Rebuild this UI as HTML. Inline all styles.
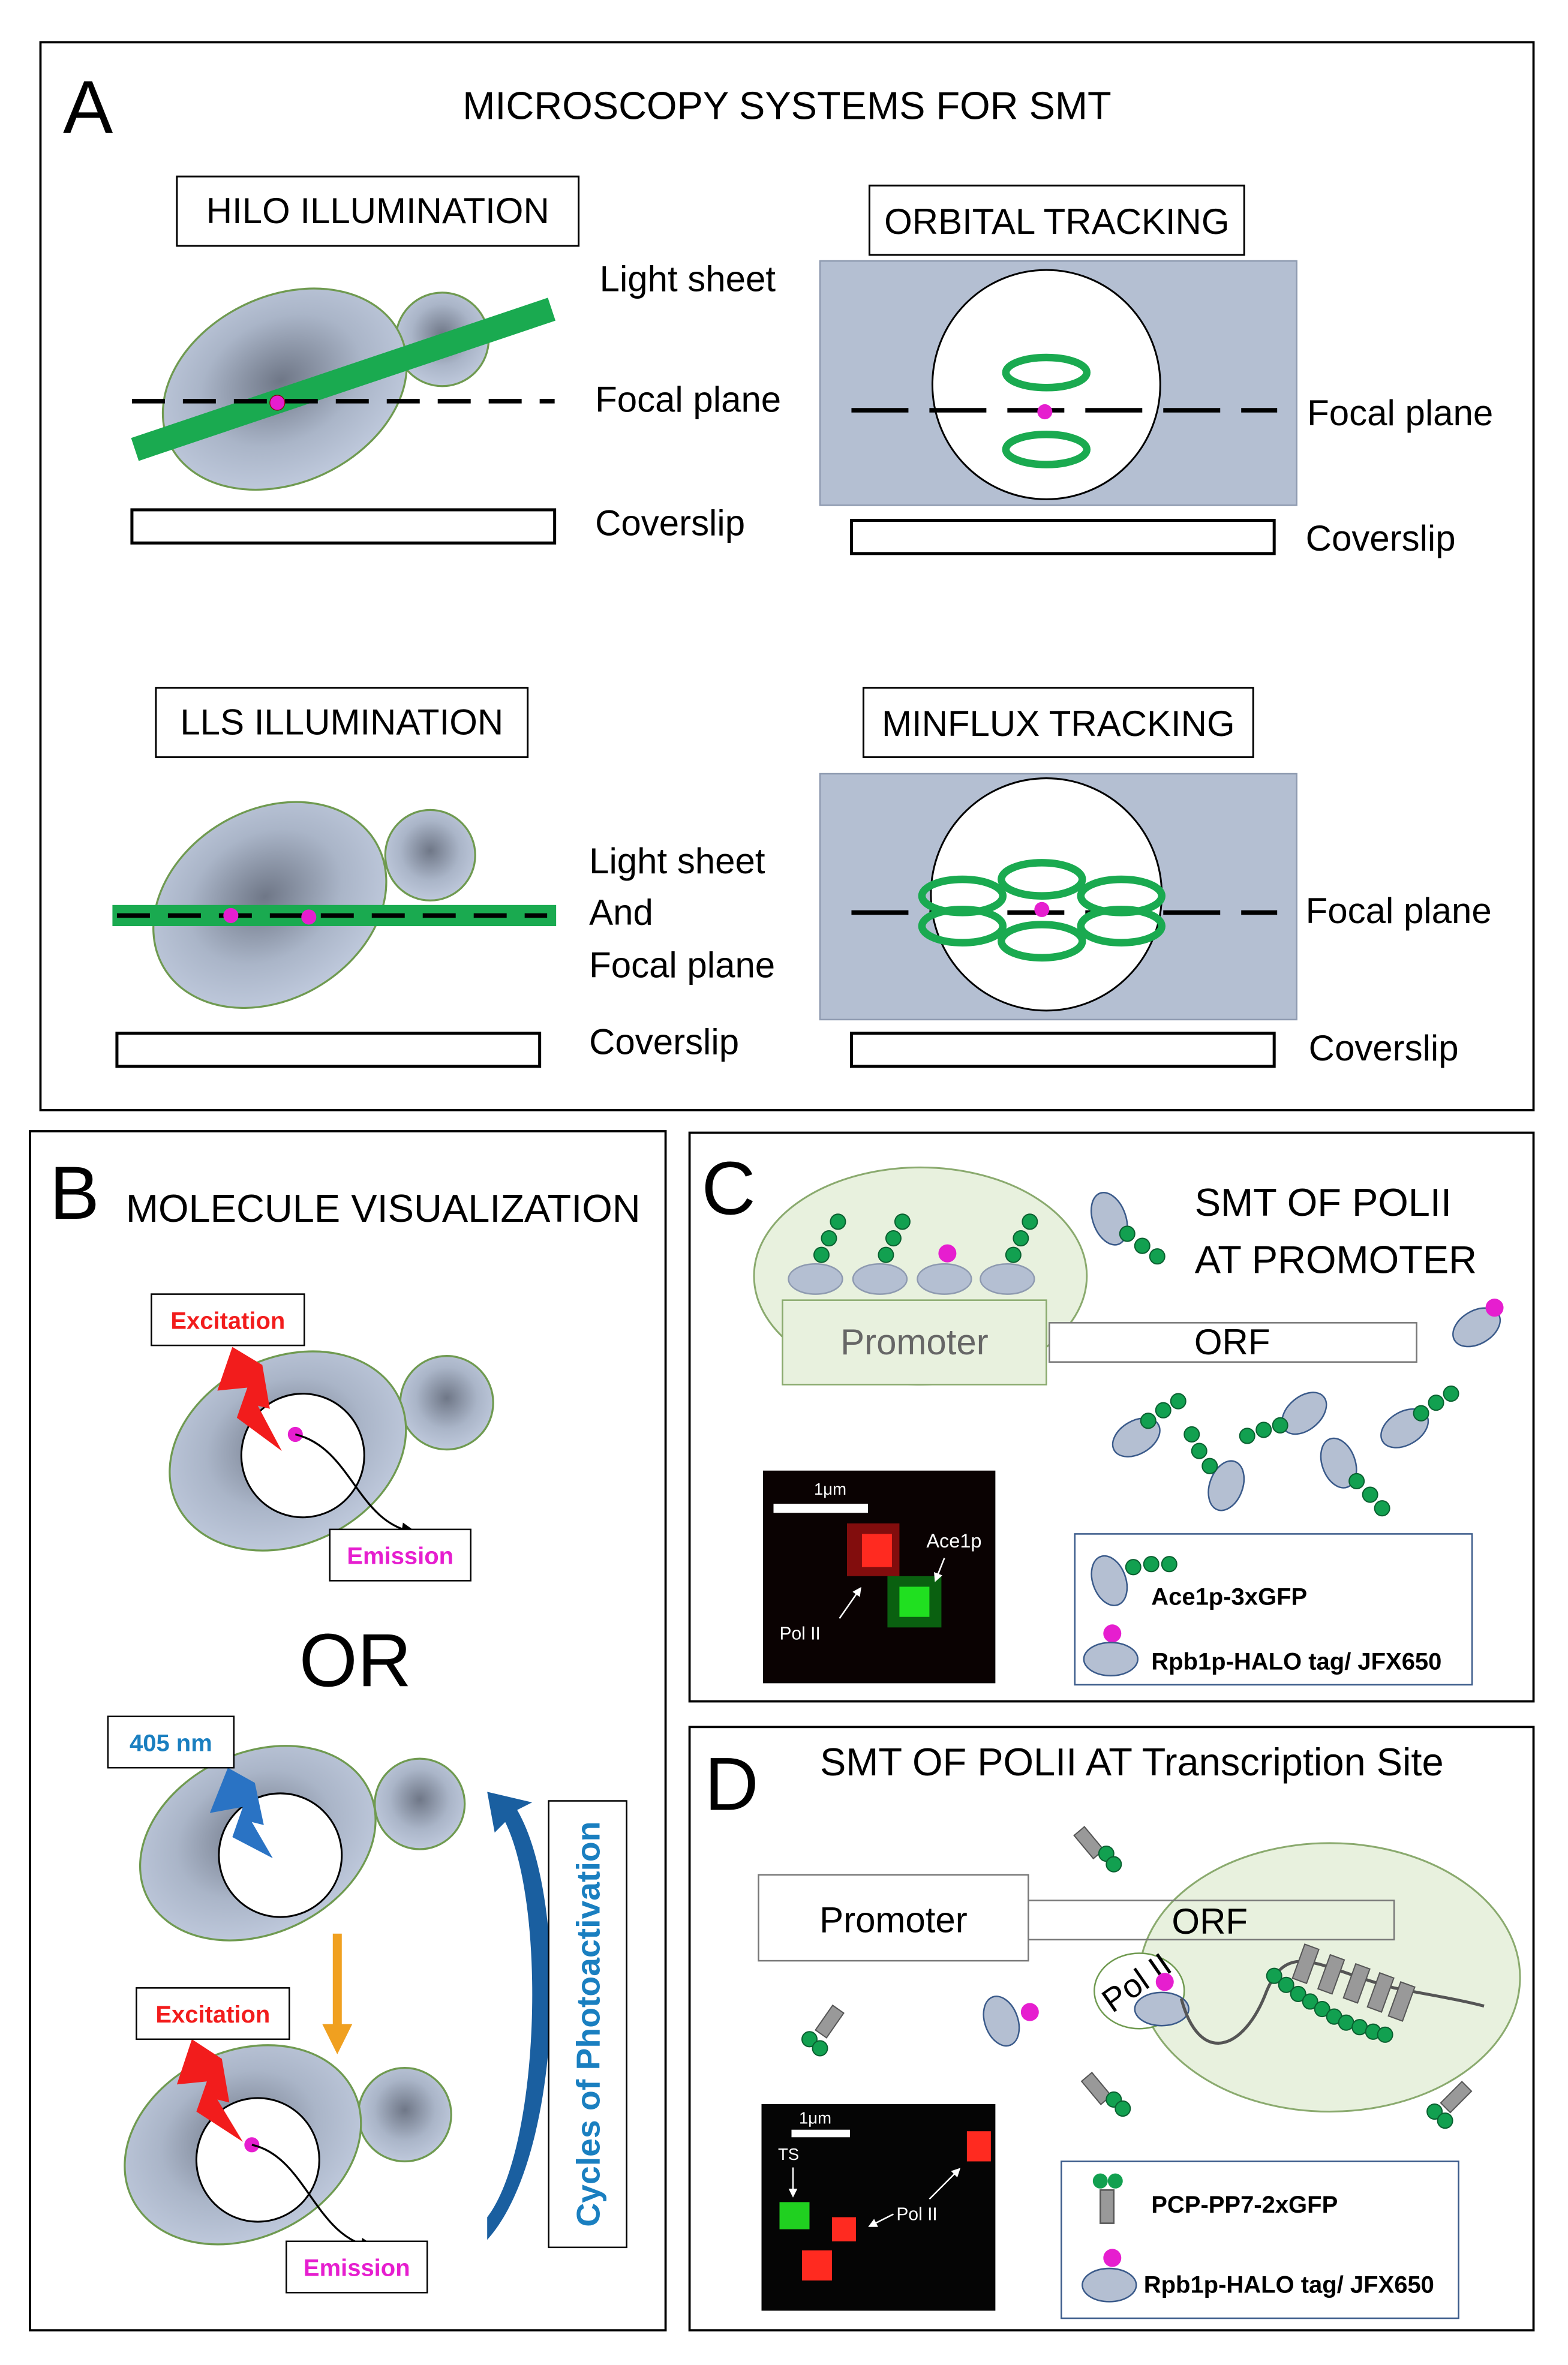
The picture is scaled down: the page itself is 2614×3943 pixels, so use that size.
<!DOCTYPE html>
<html><head><meta charset="utf-8"><style>
html,body{margin:0;padding:0;background:#fff}
svg{display:block}
text{font-family:"Liberation Sans","DejaVu Sans",sans-serif}
</style></head><body>
<svg width="2614" height="3943" viewBox="0 0 1046 1568" preserveAspectRatio="none" xmlns="http://www.w3.org/2000/svg">
<defs>
<radialGradient id="cg" cx="50%" cy="45%" r="60%"><stop offset="0" stop-color="#6f7787"/><stop offset="0.55" stop-color="#aab5c8"/><stop offset="1" stop-color="#c3cde0"/></radialGradient>
<marker id="ah" markerWidth="8" markerHeight="8" refX="7" refY="4" orient="auto"><path d="M0,0 L8,4 L0,8 z" fill="#000"/></marker>
<marker id="ahw" markerWidth="6" markerHeight="6" refX="5" refY="3" orient="auto"><path d="M0,0 L6,3 L0,6 z" fill="#fff"/></marker>
</defs>
<rect width="1046" height="1568" fill="#fff"/>

<!-- PANEL A -->
<rect x="27" y="28" width="996" height="708" fill="none" stroke="#000" stroke-width="1.5"/>
<text x="42" y="88" font-size="50">A</text>
<text x="525" y="79" font-size="26" text-anchor="middle">MICROSCOPY SYSTEMS FOR SMT</text>

<rect x="118" y="117" width="268" height="46" fill="#fff" stroke="#000" stroke-width="1.2"/>
<text x="252" y="148" font-size="24" text-anchor="middle">HILO  ILLUMINATION</text>
<circle cx="295" cy="225" r="31" fill="url(#cg)" stroke="#6f9a50" stroke-width="1.3"/>
<ellipse cx="190" cy="258" rx="85" ry="62" transform="rotate(-25 190 258)" fill="url(#cg)" stroke="#6f9a50" stroke-width="1.3"/>
<line x1="90" y1="298" x2="368" y2="205" stroke="#1aaa50" stroke-width="16"/>
<line x1="88" y1="266" x2="370" y2="266" stroke="#000" stroke-width="3" stroke-dasharray="22,12"/>
<circle cx="185" cy="267" r="5" fill="#e61ecf" stroke="#800" stroke-width="0.5"/>
<rect x="88" y="338" width="282" height="22" fill="#fff" stroke="#000" stroke-width="2"/>
<text x="400" y="193" font-size="24">Light sheet</text>
<text x="397" y="273" font-size="24">Focal plane</text>
<text x="397" y="355" font-size="24">Coverslip</text>

<rect x="580" y="123" width="250" height="46" fill="#fff" stroke="#000" stroke-width="1.2"/>
<text x="705" y="155" font-size="24" text-anchor="middle">ORBITAL TRACKING</text>
<rect x="547" y="173" width="318" height="162" fill="#b4bfd2" stroke="#8e9ab0"/>
<circle cx="698" cy="255" r="76" fill="#fff" stroke="#000" stroke-width="1.2"/>
<ellipse cx="698" cy="247" rx="27" ry="10" fill="none" stroke="#1aaa50" stroke-width="5"/>
<ellipse cx="698" cy="298" rx="27" ry="10" fill="none" stroke="#1aaa50" stroke-width="5"/>
<line x1="568" y1="272" x2="852" y2="272" stroke="#000" stroke-width="3" stroke-dasharray="38,14"/>
<circle cx="697" cy="273" r="5" fill="#e61ecf"/>
<rect x="568" y="345" width="282" height="22" fill="#fff" stroke="#000" stroke-width="2"/>
<text x="872" y="282" font-size="24">Focal plane</text>
<text x="871" y="365" font-size="24">Coverslip</text>

<rect x="104" y="456" width="248" height="46" fill="#fff" stroke="#000" stroke-width="1.2"/>
<text x="228" y="487" font-size="24" text-anchor="middle">LLS  ILLUMINATION</text>
<circle cx="287" cy="567" r="30" fill="url(#cg)" stroke="#6f9a50" stroke-width="1.3"/>
<ellipse cx="180" cy="600" rx="82" ry="63" transform="rotate(-30 180 600)" fill="url(#cg)" stroke="#6f9a50" stroke-width="1.3"/>
<rect x="75" y="600" width="296" height="14" fill="#1aaa50"/>
<line x1="78" y1="607" x2="365" y2="607" stroke="#000" stroke-width="3" stroke-dasharray="22,12"/>
<circle cx="154" cy="607" r="5" fill="#e61ecf"/>
<circle cx="206" cy="608" r="5" fill="#e61ecf"/>
<rect x="78" y="685" width="282" height="22" fill="#fff" stroke="#000" stroke-width="2"/>
<text x="393" y="579" font-size="24">Light sheet</text>
<text x="393" y="613" font-size="24">And</text>
<text x="393" y="648" font-size="24">Focal plane</text>
<text x="393" y="699" font-size="24">Coverslip</text>

<rect x="576" y="456" width="260" height="46" fill="#fff" stroke="#000" stroke-width="1.2"/>
<text x="706" y="488" font-size="24" text-anchor="middle">MINFLUX TRACKING</text>
<rect x="547" y="513" width="318" height="163" fill="#b4bfd2" stroke="#8e9ab0"/>
<circle cx="698" cy="593" r="77" fill="#fff" stroke="#000" stroke-width="1.2"/>
<line x1="568" y1="605" x2="852" y2="605" stroke="#000" stroke-width="3" stroke-dasharray="38,14"/>
<g fill="none" stroke="#1aaa50" stroke-width="5">
<ellipse cx="695" cy="583" rx="27" ry="11"/>
<ellipse cx="642" cy="594" rx="27" ry="11"/>
<ellipse cx="748" cy="594" rx="27" ry="11"/>
<ellipse cx="642" cy="614" rx="27" ry="11"/>
<ellipse cx="748" cy="614" rx="27" ry="11"/>
<ellipse cx="695" cy="624" rx="27" ry="11"/>
</g>
<circle cx="695" cy="603" r="5" fill="#e61ecf"/>
<rect x="568" y="685" width="282" height="22" fill="#fff" stroke="#000" stroke-width="2"/>
<text x="871" y="612" font-size="24">Focal plane</text>
<text x="873" y="703" font-size="24">Coverslip</text>

<!-- PANEL B -->
<rect x="20" y="750" width="424" height="795" fill="none" stroke="#000" stroke-width="1.5"/>
<text x="33" y="808" font-size="50">B</text>
<text x="84" y="810" font-size="26">MOLECULE VISUALIZATION</text>

<circle cx="298" cy="930" r="31" fill="url(#cg)" stroke="#6f9a50" stroke-width="1.3"/>
<ellipse cx="192" cy="962" rx="82" ry="62" transform="rotate(-25 192 962)" fill="url(#cg)" stroke="#6f9a50" stroke-width="1.3"/>
<circle cx="202" cy="965" r="41" fill="#fff" stroke="#000" stroke-width="1.2"/>
<polygon points="155,893 145,922 165,920 158,940 188,962 172,932 180,934 175,905" fill="#f21c1c"/>
<circle cx="197" cy="951" r="5" fill="#e61ecf"/>
<path d="M197,951 C235,960 238,1010 277,1016" fill="none" stroke="#000" stroke-width="1.3" marker-end="url(#ah)"/>
<rect x="101" y="858" width="102" height="34" fill="#fff" stroke="#000"/>
<text x="152" y="881" font-size="16" font-weight="bold" fill="#f21c1c" text-anchor="middle">Excitation</text>
<rect x="220" y="1014" width="94" height="34" fill="#fff" stroke="#000"/>
<text x="267" y="1037" font-size="16" font-weight="bold" fill="#e61ecf" text-anchor="middle">Emission</text>
<text x="237" y="1118" font-size="50" text-anchor="middle">OR</text>

<circle cx="280" cy="1196" r="30" fill="url(#cg)" stroke="#6f9a50" stroke-width="1.3"/>
<ellipse cx="172" cy="1222" rx="82" ry="60" transform="rotate(-25 172 1222)" fill="url(#cg)" stroke="#6f9a50" stroke-width="1.3"/>
<circle cx="187" cy="1230" r="41" fill="#fff" stroke="#000" stroke-width="1.2"/>
<polygon points="152,1172 140,1202 162,1198 155,1218 182,1232 168,1208 176,1210 170,1182" fill="#2a73c4"/>
<rect x="72" y="1138" width="84" height="34" fill="#fff" stroke="#000"/>
<text x="114" y="1161" font-size="16" font-weight="bold" fill="#1a7fc0" text-anchor="middle">405 nm</text>
<rect x="222" y="1282" width="6" height="62" fill="#f0a020"/>
<polygon points="215,1342 235,1342 225,1362" fill="#f0a020"/>

<circle cx="270" cy="1402" r="31" fill="url(#cg)" stroke="#6f9a50" stroke-width="1.3"/>
<ellipse cx="162" cy="1422" rx="82" ry="62" transform="rotate(-25 162 1422)" fill="url(#cg)" stroke="#6f9a50" stroke-width="1.3"/>
<circle cx="172" cy="1432" r="41" fill="#fff" stroke="#000" stroke-width="1.2"/>
<polygon points="128,1352 118,1382 138,1380 131,1400 162,1420 145,1392 153,1394 148,1365" fill="#f21c1c"/>
<circle cx="168" cy="1422" r="5" fill="#e61ecf"/>
<path d="M168,1422 C205,1430 210,1485 250,1490" fill="none" stroke="#000" stroke-width="1.3" marker-end="url(#ah)"/>
<rect x="91" y="1318" width="102" height="34" fill="#fff" stroke="#000"/>
<text x="142" y="1341" font-size="16" font-weight="bold" fill="#f21c1c" text-anchor="middle">Excitation</text>
<rect x="191" y="1486" width="94" height="34" fill="#fff" stroke="#000"/>
<text x="238" y="1509" font-size="16" font-weight="bold" fill="#e61ecf" text-anchor="middle">Emission</text>

<path d="M325,1485 C375,1430 380,1260 345,1200 L355,1195 L325,1188 L330,1215 L337,1208 C365,1265 360,1425 325,1470 z" fill="#1a5fa0"/>
<rect x="366" y="1194" width="52" height="296" fill="#fff" stroke="#000"/>
<text transform="translate(400 1342) rotate(-90)" font-size="22" font-weight="bold" fill="#1a7fc0" text-anchor="middle">Cycles of Photoactivation</text>

<!-- PANEL C -->
<rect x="460" y="751" width="563" height="377" fill="none" stroke="#000" stroke-width="1.5"/>
<text x="468" y="805" font-size="50">C</text>
<ellipse cx="614" cy="846" rx="111" ry="72" fill="#e8f1de" stroke="#8aaa6e" stroke-width="1.2"/>
<g fill="#b4bfd2" stroke="#8e9ab0">
<ellipse cx="544" cy="848" rx="18" ry="10"/><ellipse cx="587" cy="848" rx="18" ry="10"/>
<ellipse cx="630" cy="848" rx="18" ry="10"/><ellipse cx="672" cy="848" rx="18" ry="10"/>
</g>
<g fill="#12a050" stroke="#0a6030" stroke-width="0.8">
<circle cx="548" cy="832" r="5"/><circle cx="553" cy="821" r="5"/><circle cx="559" cy="810" r="5"/>
<circle cx="591" cy="832" r="5"/><circle cx="596" cy="821" r="5"/><circle cx="602" cy="810" r="5"/>
<circle cx="676" cy="832" r="5"/><circle cx="681" cy="821" r="5"/><circle cx="687" cy="810" r="5"/>
</g>
<circle cx="632" cy="831" r="6" fill="#e61ecf"/>
<rect x="700" y="877" width="245" height="26" fill="#fff" stroke="#777"/>
<text x="822" y="898" font-size="24" text-anchor="middle">ORF</text>
<rect x="522" y="862" width="176" height="56" fill="#e8f1de" stroke="#8aaa6e"/>
<text x="610" y="898" font-size="24" fill="#666" text-anchor="middle">Promoter</text>
<text x="797" y="806" font-size="26">SMT OF POLII</text>
<text x="797" y="844" font-size="26">AT PROMOTER</text>
<g fill="#b4bfd2" stroke="#3a5a8a" stroke-width="1">
<ellipse cx="740" cy="808" rx="11" ry="18" transform="rotate(-20 740 808)"/>
<ellipse cx="985" cy="880" rx="11" ry="17" transform="rotate(60 985 880)"/>
<ellipse cx="758" cy="953" rx="11" ry="17" transform="rotate(60 758 953)"/>
<ellipse cx="818" cy="985" rx="11" ry="17" transform="rotate(20 818 985)"/>
<ellipse cx="870" cy="937" rx="11" ry="17" transform="rotate(50 870 937)"/>
<ellipse cx="893" cy="970" rx="11" ry="17" transform="rotate(-20 893 970)"/>
<ellipse cx="937" cy="947" rx="11" ry="17" transform="rotate(60 937 947)"/>
</g>
<g fill="#12a050" stroke="#0a6030" stroke-width="0.8">
<circle cx="752" cy="818" r="5"/><circle cx="762" cy="826" r="5"/><circle cx="772" cy="833" r="5"/>
<circle cx="766" cy="942" r="5"/><circle cx="776" cy="935" r="5"/><circle cx="786" cy="929" r="5"/>
<circle cx="795" cy="951" r="5"/><circle cx="800" cy="962" r="5"/><circle cx="807" cy="972" r="5"/>
<circle cx="832" cy="952" r="5"/><circle cx="843" cy="948" r="5"/><circle cx="854" cy="945" r="5"/>
<circle cx="905" cy="982" r="5"/><circle cx="914" cy="991" r="5"/><circle cx="922" cy="1000" r="5"/>
<circle cx="948" cy="937" r="5"/><circle cx="958" cy="930" r="5"/><circle cx="968" cy="924" r="5"/>
</g>
<circle cx="997" cy="867" r="6" fill="#e61ecf"/>
<!-- image C -->
<rect x="509" y="975" width="155" height="141" fill="#0a0202"/>
<rect x="565" y="1010" width="35" height="35" fill="#a01010" opacity="0.8"/>
<rect x="575" y="1017" width="20" height="22" fill="#ff2a20"/>
<rect x="592" y="1045" width="36" height="34" fill="#0a6010"/>
<rect x="600" y="1052" width="20" height="20" fill="#20e020"/>
<rect x="516" y="997" width="63" height="6" fill="#fff"/>
<text x="543" y="991" font-size="11" fill="#fff">1μm</text>
<text x="618" y="1026" font-size="13" fill="#fff">Ace1p</text>
<text x="520" y="1087" font-size="12" fill="#fff">Pol II</text>
<line x1="560" y1="1073" x2="574" y2="1053" stroke="#fff" stroke-width="1" marker-end="url(#ahw)"/>
<line x1="630" y1="1033" x2="624" y2="1048" stroke="#fff" stroke-width="1" marker-end="url(#ahw)"/>
<rect x="717" y="1017" width="265" height="100" fill="#fff" stroke="#3a5a8a"/>
<ellipse cx="740" cy="1048" rx="11" ry="17" transform="rotate(-20 740 1048)" fill="#b4bfd2" stroke="#3a5a8a"/>
<g fill="#12a050" stroke="#0a6030" stroke-width="0.8"><circle cx="756" cy="1039" r="5"/><circle cx="768" cy="1037" r="5"/><circle cx="780" cy="1037" r="5"/></g>
<text x="768" y="1064" font-size="16" font-weight="bold">Ace1p-3xGFP</text>
<circle cx="742" cy="1083" r="6" fill="#e61ecf"/>
<ellipse cx="741" cy="1100" rx="18" ry="11" fill="#b4bfd2" stroke="#3a5a8a"/>
<text x="768" y="1107" font-size="16" font-weight="bold">Rpb1p-HALO tag/ JFX650</text>

<!-- PANEL D -->
<rect x="460" y="1145" width="563" height="400" fill="none" stroke="#000" stroke-width="1.5"/>
<text x="470" y="1200" font-size="50">D</text>
<text x="547" y="1177" font-size="26">SMT OF POLII AT Transcription Site</text>
<ellipse cx="887" cy="1311" rx="127" ry="89" fill="#e8f1de" stroke="#8aaa6e" stroke-width="1.2"/>
<rect x="686" y="1260" width="244" height="26" fill="none" stroke="#777"/>
<text x="807" y="1282" font-size="24" text-anchor="middle">ORF</text>
<rect x="506" y="1243" width="180" height="57" fill="#fff" stroke="#777"/>
<text x="596" y="1281" font-size="24" text-anchor="middle">Promoter</text>
<ellipse cx="760" cy="1320" rx="30" ry="25" fill="#fff" stroke="#6f9a50"/>
<text transform="translate(742 1335) rotate(-35)" font-size="22">Pol II</text>
<ellipse cx="775" cy="1332" rx="18" ry="11" fill="#b4bfd2" stroke="#3a5a8a"/>
<circle cx="777" cy="1314" r="6" fill="#e61ecf"/>
<path d="M788,1325 C800,1370 830,1360 845,1320 C860,1285 880,1305 930,1318 C950,1322 970,1325 990,1330" fill="none" stroke="#555" stroke-width="2"/>
<g fill="#999" stroke="#555" stroke-width="0.8">
<rect x="866" y="1290" width="10" height="24" transform="rotate(20 871 1302)"/>
<rect x="883" y="1297" width="10" height="24" transform="rotate(20 888 1309)"/>
<rect x="900" y="1303" width="10" height="24" transform="rotate(20 905 1315)"/>
<rect x="916" y="1309" width="10" height="24" transform="rotate(20 921 1321)"/>
<rect x="930" y="1315" width="10" height="24" transform="rotate(20 935 1327)"/>
</g>
<g fill="#12a050" stroke="#0a6030" stroke-width="0.8">
<circle cx="850" cy="1310" r="5"/><circle cx="858" cy="1316" r="5"/><circle cx="866" cy="1322" r="5"/><circle cx="874" cy="1327" r="5"/>
<circle cx="882" cy="1332" r="5"/><circle cx="890" cy="1337" r="5"/><circle cx="898" cy="1341" r="5"/><circle cx="907" cy="1344" r="5"/>
<circle cx="916" cy="1347" r="5"/><circle cx="924" cy="1349" r="5"/>
</g>
<!-- free PCP -->
<g fill="#999" stroke="#555" stroke-width="0.8">
<rect x="722" y="1212" width="9" height="20" transform="rotate(-40 726 1222)"/>
<rect x="549" y="1330" width="9" height="20" transform="rotate(35 553 1340)"/>
<rect x="727" y="1375" width="9" height="20" transform="rotate(-40 731 1385)"/>
<rect x="967" y="1380" width="9" height="20" transform="rotate(45 971 1390)"/>
</g>
<g fill="#12a050" stroke="#0a6030" stroke-width="0.8">
<circle cx="738" cy="1229" r="5"/><circle cx="743" cy="1236" r="5"/>
<circle cx="540" cy="1352" r="5"/><circle cx="547" cy="1358" r="5"/>
<circle cx="743" cy="1392" r="5"/><circle cx="749" cy="1398" r="5"/>
<circle cx="957" cy="1400" r="5"/><circle cx="964" cy="1406" r="5"/>
</g>
<ellipse cx="668" cy="1340" rx="11" ry="17" transform="rotate(-20 668 1340)" fill="#b4bfd2" stroke="#3a5a8a"/>
<circle cx="687" cy="1334" r="6" fill="#e61ecf"/>
<!-- image D -->
<rect x="508" y="1395" width="156" height="137" fill="#050505"/>
<rect x="520" y="1460" width="20" height="18" fill="#20d020"/>
<rect x="555" y="1470" width="16" height="16" fill="#ff2a20"/>
<rect x="535" y="1492" width="20" height="20" fill="#ff2a20"/>
<rect x="645" y="1413" width="16" height="20" fill="#ff2a20"/>
<rect x="528" y="1412" width="39" height="5" fill="#fff"/>
<text x="533" y="1408" font-size="11" fill="#fff">1μm</text>
<text x="519" y="1432" font-size="11" fill="#fff">TS</text>
<text x="598" y="1472" font-size="12" fill="#fff">Pol II</text>
<line x1="529" y1="1437" x2="529" y2="1456" stroke="#fff" stroke-width="1" marker-end="url(#ahw)"/>
<line x1="596" y1="1468" x2="580" y2="1476" stroke="#fff" stroke-width="1" marker-end="url(#ahw)"/>
<line x1="620" y1="1458" x2="640" y2="1438" stroke="#fff" stroke-width="1" marker-end="url(#ahw)"/>
<rect x="708" y="1433" width="265" height="104" fill="#fff" stroke="#3a5a8a"/>
<rect x="734" y="1452" width="9" height="22" fill="#999" stroke="#555"/>
<circle cx="734" cy="1446" r="5" fill="#12a050"/><circle cx="744" cy="1446" r="5" fill="#12a050"/>
<text x="768" y="1467" font-size="16" font-weight="bold">PCP-PP7-2xGFP</text>
<circle cx="742" cy="1497" r="6" fill="#e61ecf"/>
<ellipse cx="740" cy="1515" rx="18" ry="11" fill="#b4bfd2" stroke="#3a5a8a"/>
<text x="763" y="1520" font-size="16" font-weight="bold">Rpb1p-HALO tag/ JFX650</text>
</svg>
</body></html>
